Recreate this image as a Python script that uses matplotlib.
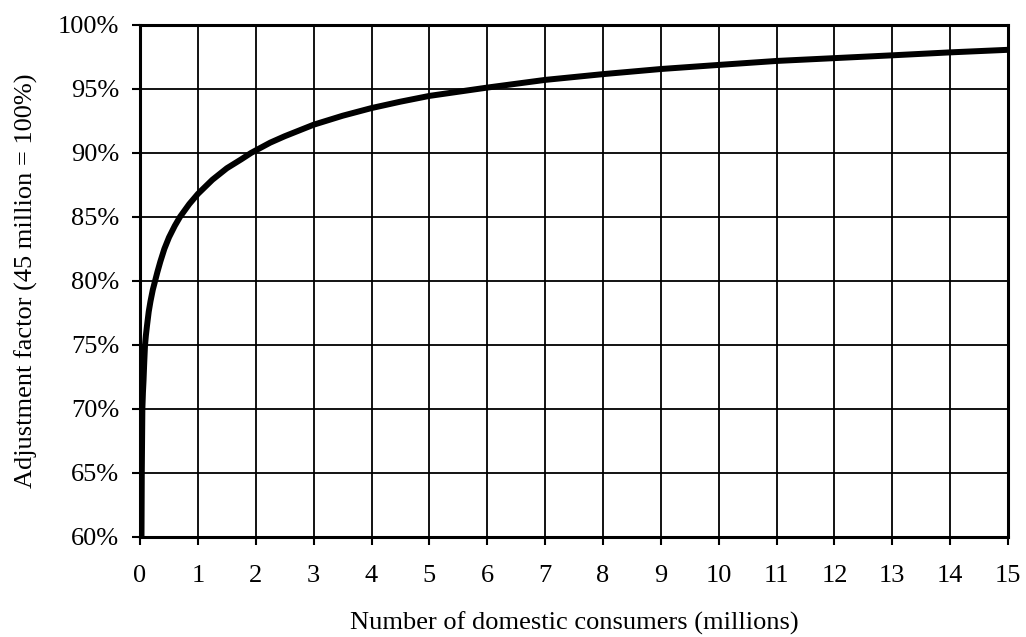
import matplotlib.pyplot as plt
from matplotlib.ticker import FuncFormatter

# values (x in millions, y in %)
consumers = [0.025, 0.03, 0.04, 0.05, 0.06, 0.073, 0.086, 0.1, 0.12, 0.15, 0.18,
             0.22, 0.26, 0.3, 0.35, 0.42, 0.5, 0.6, 0.69, 0.85, 1.0, 1.25, 1.5,
             1.75, 1.92, 2.25, 2.5, 3, 3.5, 4, 4.5, 5, 6, 7, 8, 9, 10, 11, 12,
             13, 14, 15]
factor = [60, 65, 70, 71.3, 72.2, 73.7, 75, 75.7, 76.5, 77.6, 78.4,
          79.3, 80, 80.7, 81.5, 82.5, 83.4, 84.3, 85, 86, 86.8, 87.9, 88.8,
          89.5, 90, 90.8, 91.3, 92.2, 92.9, 93.5, 94.0, 94.45, 95.1, 95.7,
          96.15, 96.55, 96.87, 97.18, 97.4, 97.62, 97.85, 98.05]
x_ticks = list(range(0, 16))
y_ticks = [60, 65, 70, 75, 80, 85, 90, 95, 100]

plt.rcParams['font.family'] = 'Liberation Serif'

fig = plt.figure(figsize=(10.26, 6.37), dpi=100)
ax = fig.add_axes([0.1365, 0.157, 0.846, 0.804])

ax.plot(consumers, factor, color='black', linewidth=4.3,
        solid_capstyle='butt', solid_joinstyle='round', zorder=3)

ax.set_xlim(0, 15)
ax.set_ylim(60, 100)
ax.set_xticks(x_ticks)
ax.set_yticks(y_ticks)
ax.yaxis.set_major_formatter(FuncFormatter(lambda v, p: f"{v:.0f}%"))
ax.grid(True, color='black', linewidth=1.3)
ax.set_axisbelow(True)

for s in ax.spines.values():
    s.set_linewidth(2.2)
    s.set_color('black')

ax.tick_params(axis='both', direction='out', length=6, width=1.5,
               labelsize=19, colors='black')
ax.tick_params(axis='y', pad=9)
ax.tick_params(axis='x', pad=14)

ax.set_xlabel('Number of domestic consumers (millions)', fontsize=19, labelpad=18)
ax.set_ylabel('Adjustment factor (45 million = 100%)', fontsize=19, labelpad=14)

fig.savefig('out.png', dpi=100)
